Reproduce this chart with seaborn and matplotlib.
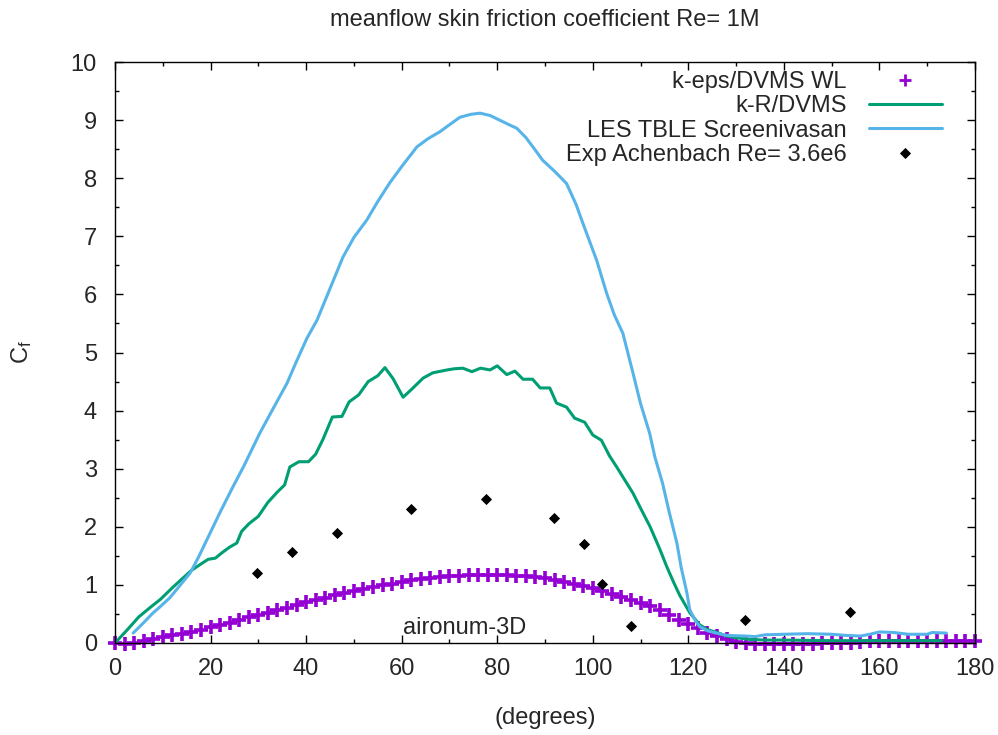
import numpy as np
import pandas as pd
import seaborn as sns
import matplotlib
matplotlib.use("Agg")
import matplotlib.pyplot as plt
from matplotlib.ticker import MultipleLocator

#%%-----------------------------------------------------------------------
# data

# k-eps/DVMS WL, one marker every 2 degrees
keps_deg = list(range(0, 181, 2))
keps_cf = [0.00, -0.01, 0.00, 0.03, 0.07, 0.10, 0.13, 0.16, 0.19, 0.23,
           0.27, 0.31, 0.35, 0.39, 0.44, 0.48, 0.52, 0.57, 0.61, 0.65,
           0.70, 0.74, 0.78, 0.82, 0.86, 0.90, 0.93, 0.96, 0.99, 1.02,
           1.05, 1.08, 1.10, 1.12, 1.14, 1.15, 1.16, 1.17, 1.17, 1.17,
           1.17, 1.17, 1.16, 1.15, 1.13, 1.11, 1.08, 1.05, 1.02, 0.98,
           0.94, 0.90, 0.85, 0.79, 0.74, 0.69, 0.63, 0.56, 0.48, 0.40,
           0.32, 0.25, 0.18, 0.12, 0.07, 0.02, 0.00, -0.01, -0.01, -0.01,
           -0.01, -0.01, -0.01, -0.01, 0.00, 0.00, 0.00, 0.00, 0.02, 0.03,
           0.04, 0.04, 0.04, 0.04, 0.04, 0.04, 0.04, 0.04, 0.04, 0.04,
           0.04]

# k-R/DVMS
kr_deg = [0, 2.5, 5, 7.5, 9.5, 12, 14, 16, 18, 19.5, 21, 22.5, 24, 25.5,
          26.5, 28, 30, 32, 34, 35.5, 36.6, 38.5, 40.5, 42, 43.5, 45.5,
          47.5, 49, 51, 53, 55, 56.5, 58.2, 60.3, 62, 64.5, 66.5, 69.5,
          71, 72.8, 74.7, 76.5, 78.5, 80, 82, 83.7, 85.4, 87.4, 89, 91,
          92.4, 94.5, 96.2, 98.3, 100, 101.8, 103.5, 105, 108.4, 110, 112,
          114, 115.5, 117, 118.2, 120.3, 122.4, 124, 126, 128, 130, 133,
          136, 140, 150, 160, 173]
kr_cf = [0.00, 0.22, 0.45, 0.62, 0.75, 0.95, 1.10, 1.25, 1.36, 1.44, 1.46,
         1.56, 1.65, 1.72, 1.92, 2.05, 2.18, 2.42, 2.60, 2.72, 3.03, 3.12,
         3.12, 3.25, 3.50, 3.89, 3.90, 4.15, 4.27, 4.50, 4.60, 4.74, 4.55,
         4.23, 4.36, 4.56, 4.65, 4.70, 4.72, 4.73, 4.67, 4.73, 4.70, 4.77,
         4.62, 4.68, 4.54, 4.54, 4.39, 4.39, 4.13, 4.06, 3.87, 3.80, 3.58,
         3.49, 3.22, 3.03, 2.58, 2.32, 2.00, 1.62, 1.31, 1.03, 0.82, 0.52,
         0.31, 0.23, 0.18, 0.12, 0.09, 0.06, 0.05, 0.05, 0.04, 0.04, 0.04]

# LES TBLE Screenivasan
les_deg = [3.8, 6, 8, 9.4, 11.5, 13.5, 15.7, 17.5, 19.9, 22, 24.7, 27, 30.3,
           33, 36, 38, 40.2, 42.3, 45, 47.7, 50, 52.7, 55, 57.5, 60, 63.2,
           65.5, 68, 70, 72.2, 74.5, 76.4, 78.5, 80.5, 82.5, 84.1, 86, 88,
           89.5, 92, 94.5, 96.5, 97.9, 100.8, 102.9, 104.5, 106.3, 108.4,
           110, 111.9, 113, 114.6, 116, 117.6, 118.5, 119.7, 120.3, 121.5,
           122.4, 124, 125.9, 128, 132, 134, 136, 140, 145, 150, 153, 156,
           158, 160, 163, 166, 170, 171, 174]
les_cf = [0.17, 0.35, 0.52, 0.62, 0.78, 0.98, 1.20, 1.48, 1.89, 2.25, 2.69,
          3.05, 3.61, 4.02, 4.47, 4.85, 5.25, 5.56, 6.10, 6.64, 6.98, 7.28,
          7.60, 7.92, 8.20, 8.54, 8.68, 8.80, 8.92, 9.05, 9.10, 9.12, 9.08,
          9.00, 8.92, 8.86, 8.70, 8.48, 8.31, 8.12, 7.91, 7.55, 7.23, 6.59,
          6.02, 5.65, 5.33, 4.65, 4.12, 3.61, 3.20, 2.75, 2.25, 1.72, 1.30,
          0.86, 0.57, 0.38, 0.28, 0.21, 0.17, 0.13, 0.12, 0.11, 0.14, 0.15,
          0.16, 0.15, 0.13, 0.12, 0.15, 0.19, 0.18, 0.15, 0.15, 0.18, 0.17]

# Exp Achenbach Re= 3.6e6
exp_deg = [29.8, 37.1, 46.5, 61.9, 77.7, 91.8, 98.2, 101.9, 108.0, 131.8, 153.8]
exp_cf = [1.20, 1.56, 1.89, 2.31, 2.47, 2.15, 1.70, 1.02, 0.29, 0.40, 0.54]

#%%-----------------------------------------------------------------------
# plot

sns.set_style("ticks")
plt.rcParams['font.family'] = ['Liberation Sans', 'DejaVu Sans']
plt.rcParams['mathtext.fontset'] = 'custom'
plt.rcParams['mathtext.rm'] = 'Liberation Sans'
plt.rcParams['mathtext.it'] = 'Liberation Sans'

fs = 17
fig, ax = plt.subplots(figsize=(9.98, 7.35), dpi=100)
fig.subplots_adjust(left=0.1152, right=0.977, bottom=0.1252, top=0.9156)

sns.lineplot(x=keps_deg, y=keps_cf, ax=ax, color='#9400D3', marker='+',
             linestyle='', markersize=10, markeredgewidth=2.6,
             markeredgecolor='#9400D3', clip_on=False,
             label='k-eps/DVMS WL', estimator=None)
sns.lineplot(x=kr_deg, y=kr_cf, ax=ax, color='#009E73', lw=2.2,
             label='k-R/DVMS', estimator=None)
sns.lineplot(x=les_deg, y=les_cf, ax=ax, color='#56B4E9', lw=2.2,
             label='LES TBLE Screenivasan', estimator=None)
sns.lineplot(x=exp_deg, y=exp_cf, ax=ax, color='black', marker='D',
             linestyle='', markersize=5.5, markeredgewidth=0.6,
             markeredgecolor='black',
             label='Exp Achenbach Re= 3.6e6', estimator=None)

ax.set_xlim(0, 180)
ax.set_ylim(0, 10)
ax.xaxis.set_major_locator(MultipleLocator(20))
ax.xaxis.set_minor_locator(MultipleLocator(10))
ax.yaxis.set_major_locator(MultipleLocator(1))
ax.yaxis.set_minor_locator(MultipleLocator(0.5))
ax.tick_params(which='both', direction='in', top=True, right=True,
               color='black', width=1)
ax.tick_params(which='major', length=6)
ax.tick_params(which='minor', length=3)
ax.tick_params(axis='x', labelsize=fs, pad=11)
ax.tick_params(axis='y', labelsize=fs, pad=13)
for sp in ax.spines.values():
    sp.set_visible(True)
    sp.set_color('black')
    sp.set_linewidth(1)

ax.set_title('meanflow skin friction coefficient Re= 1M', fontsize=fs, pad=26)
ax.set_xlabel('(degrees)', fontsize=fs)
ax.set_ylabel(r'C$_{\mathregular{f}}$', fontsize=fs)
ax.xaxis.set_label_coords(0.5, -0.11)
ax.yaxis.set_label_coords(-0.094, 0.5)

ax.text(73.2, 0.26, 'aironum-3D', fontsize=fs, ha='center', va='center')

leg = ax.legend(loc='upper right', bbox_to_anchor=(0.9616, 0.9845),
                frameon=False, markerfirst=False, fontsize=fs,
                borderaxespad=0, borderpad=0, labelspacing=0.1,
                handlelength=3.1, handletextpad=0.95, numpoints=1)
for col in leg._legend_handle_box.get_children():
    col.align = 'right'
leg.legend_handles[0].set_markersize(8)
leg.legend_handles[0].set_markeredgewidth(2.0)

fig.savefig('out.png', dpi=100)
